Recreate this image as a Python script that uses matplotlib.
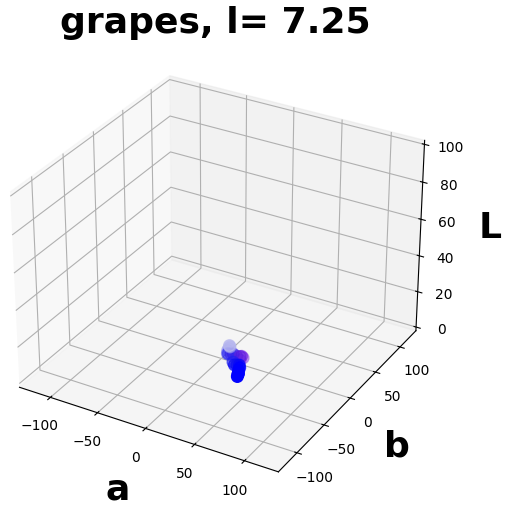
import matplotlib
matplotlib.use('Agg')
import matplotlib.pyplot as plt

plt.rcParams['axes3d.automargin'] = True

title = 'grapes, l= 7.25'
a_vals = [20, 20, 19, 18, 19, 20, 22, 24, 27, 30, 31, 32, 30, 26, 28, 30, 32, 33, 33, 34, 34, 34]
b_vals = [-20, -19, -19, -20, -22, -22, -21, -20, -19, -18, -17, -16, -18, -24, -25, -24, -23, -24, -26, -28, -29, -30]
L_vals = [14, 13, 12, 11, 10, 10, 10, 10, 9, 9, 9, 8, 7, 7, 6, 6, 6, 5, 4, 3, 3, 2]
colors = ['#b8b8ee', '#a8a8ee', '#9090ee', '#7070ee', '#3a3aee', '#2828ee', '#3020e8', '#3020e8', '#4a30e0', '#5a18e0', '#6a10e0', '#6a10e0', '#5a18e0',
          '#2020ee', '#1010f0', '#1010f0', '#0808f8', '#0000ff', '#0000ff', '#0000ff', '#0000ff', '#0000ff']

fig = plt.figure(figsize=(5.08, 5.07), dpi=100)
ax = fig.add_axes([-0.034, 0.012, 0.915, 0.909], projection='3d')
ax.scatter(a_vals, b_vals, L_vals, c=colors, s=70, depthshade=True)
ax.set_xlim(-128, 128)
ax.set_ylim(-128, 128)
ax.set_zlim(0, 100)
ax.set_xticks([-100, -50, 0, 50, 100])
ax.set_yticks([-100, -50, 0, 50, 100])
ax.set_zticks([0, 20, 40, 60, 80, 100])
ax.set_xlabel('a', fontsize=26, fontweight='bold', labelpad=10)
ax.set_ylabel('b', fontsize=26, fontweight='bold', labelpad=10)
ax.set_zlabel('L', fontsize=26, fontweight='bold', labelpad=10)
ax.set_title(title, fontsize=26, fontweight='bold', pad=5)
fig.savefig('out.png', dpi=100)
